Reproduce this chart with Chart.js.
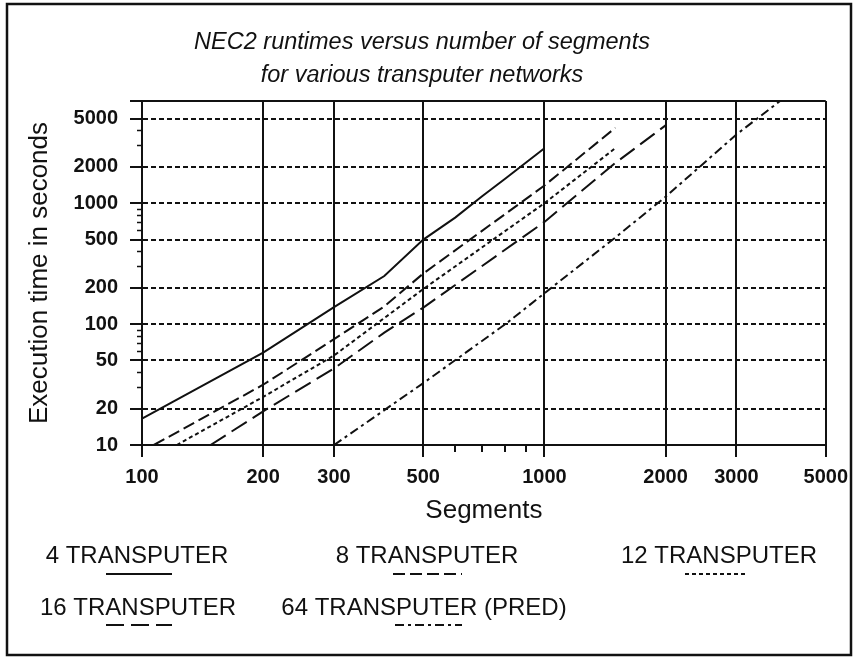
<!DOCTYPE html>
<html>
<head>
<meta charset="utf-8">
<script src="https://cdn.jsdelivr.net/npm/chart.js@4"></script>
<style>
html,body{margin:0;padding:0;background:#fff;}
#wrap{width:856px;height:659px;position:relative;background:#fff;}
canvas{display:block;}
</style>
</head>
<body>
<div id="wrap"><canvas id="c" width="856" height="659"></canvas></div>
<script>
// ---- chart text ----
const titleLines = ['NEC2 runtimes versus number of segments', 'for various transputer networks'];
const xAxisTitle = 'Segments';
const yAxisTitle = 'Execution time in seconds';

// ---- axes ----
const xMin = 100, xMax = 5000;
const yMin = 10, yMax = 7000;
const xTickValues = [100, 200, 300, 500, 1000, 2000, 3000, 5000];
const xMinorTicks = [600, 700, 800, 900];
const yTickValues = [10, 20, 50, 100, 200, 500, 1000, 2000, 5000];
const yMinorTicks = [30, 40, 60, 70, 80, 90, 300, 400, 600, 700, 800, 900, 3000, 4000];

// ---- series ----
const seriesLabels = ['4 TRANSPUTER', '8 TRANSPUTER', '12 TRANSPUTER', '16 TRANSPUTER', '64 TRANSPUTER (PRED)'];
const seg4  = [100, 200, 300, 400, 500, 600, 700, 800, 1000];
const time4 = [16.5, 58, 138, 250, 500, 760, 1140, 1600, 2850];
const seg8  = [107, 200, 300, 400, 500, 1000, 1500];
const time8 = [10, 31.5, 75, 140, 262, 1400, 4200];
const seg12  = [122, 200, 300, 500, 1000, 1500];
const time12 = [10, 25, 55, 195, 1000, 2850];
const seg16  = [148, 200, 300, 400, 500, 1000, 1500, 2000];
const time16 = [10, 19, 43, 85, 137, 700, 2150, 4400];
const seg64  = [300, 500, 800, 1000, 1500, 2000, 3000, 3850];
const time64 = [10, 32.5, 100, 180, 520, 1130, 3700, 7000];

const segs  = [seg4, seg8, seg12, seg16, seg64];
const times = [time4, time8, time12, time16, time64];

// ---- styles ----
const FONT = '"Liberation Sans", Arial, Helvetica, sans-serif';
const INK = '#111';
const dashStyles = [[], [12, 5], [4, 3], [18, 7], [9, 4, 3, 4]];
// legend layout: text centre x, text baseline y, sample line y, sample x range
const legendLayout = [
  {cx: 137, base: 563, ly: 574, x1: 106, x2: 172},
  {cx: 427, base: 563, ly: 574, x1: 393, x2: 462},
  {cx: 719, base: 563, ly: 574, x1: 685, x2: 748},
  {cx: 138, base: 615, ly: 625, x1: 106, x2: 172},
  {cx: 424, base: 615, ly: 625, x1: 395, x2: 462}
];

const extras = {
  id: 'extras',
  beforeDraw(chart) {
    const ctx = chart.ctx;
    ctx.save();
    ctx.fillStyle = '#fff';
    ctx.fillRect(0, 0, chart.width, chart.height);
    ctx.restore();
  },
  afterDraw(chart) {
    const ctx = chart.ctx;
    const ca = chart.chartArea;
    const xs = chart.scales.x, ys = chart.scales.y;
    ctx.save();
    ctx.strokeStyle = INK;
    ctx.setLineDash([]);
    // minor ticks
    ctx.lineWidth = 2;
    xMinorTicks.forEach(v => {
      const px = Math.round(xs.getPixelForValue(v));
      ctx.beginPath(); ctx.moveTo(px, ca.bottom); ctx.lineTo(px, ca.bottom + 7); ctx.stroke();
    });
    ctx.lineWidth = 1.5;
    yMinorTicks.forEach(v => {
      const py = Math.round(ys.getPixelForValue(v)) + 0.5;
      ctx.beginPath(); ctx.moveTo(ca.left - 5, py); ctx.lineTo(ca.left, py); ctx.stroke();
    });
    // outer frame
    ctx.lineWidth = 2.5;
    ctx.strokeRect(7, 4, 844, 651);
    // legend
    chart.data.datasets.forEach((ds, i) => {
      const L = legendLayout[i];
      ctx.fillStyle = INK;
      ctx.font = '24px ' + FONT;
      ctx.textAlign = 'center';
      ctx.textBaseline = 'alphabetic';
      ctx.fillText(ds.label, L.cx, L.base);
      ctx.lineWidth = 2;
      ctx.setLineDash(ds.borderDash || []);
      ctx.beginPath(); ctx.moveTo(L.x1, L.ly); ctx.lineTo(L.x2, L.ly); ctx.stroke();
      ctx.setLineDash([]);
    });
    ctx.restore();
  }
};

const datasets = seriesLabels.map((lab, i) => ({
  label: lab,
  data: segs[i].map((x, j) => ({x: x, y: times[i][j]})),
  borderColor: INK,
  borderWidth: 2,
  borderDash: dashStyles[i],
  pointRadius: 0,
  fill: false,
  tension: 0
}));

new Chart(document.getElementById('c'), {
  type: 'line',
  data: {datasets: datasets},
  options: {
    responsive: false,
    animation: false,
    devicePixelRatio: 1,
    layout: {padding: {left: 16, right: 28, top: 0, bottom: 133}},
    plugins: {
      legend: {display: false},
      tooltip: {enabled: false},
      title: {
        display: true,
        text: titleLines,
        color: INK,
        font: {family: FONT, size: 23.5, style: 'italic', weight: 'normal', lineHeight: 33 / 23.5},
        padding: {top: 25.5, bottom: 9.5}
      }
    },
    scales: {
      x: {
        type: 'logarithmic',
        min: xMin, max: xMax,
        afterBuildTicks: s => { s.ticks = xTickValues.map(v => ({value: v})); },
        afterFit: s => { s.height = 81; },
        ticks: {
          autoSkip: false, maxRotation: 0, minRotation: 0, padding: 8, color: INK,
          font: {family: FONT, size: 20, weight: 'bold'},
          callback: v => String(v)
        },
        grid: {color: INK, lineWidth: 2, tickLength: 12, tickWidth: 2, tickColor: INK},
        border: {display: true, color: INK, width: 2},
        title: {display: true, text: xAxisTitle, color: INK, font: {family: FONT, size: 26}, padding: {top: 0, bottom: 0}}
      },
      y: {
        type: 'logarithmic',
        min: yMin, max: yMax,
        afterBuildTicks: s => { s.ticks = yTickValues.concat([yMax]).map(v => ({value: v})); },
        afterFit: s => { s.width = 126; },
        ticks: {
          autoSkip: false, padding: 12, color: INK,
          font: {family: FONT, size: 20, weight: 'bold'},
          callback: v => (yTickValues.indexOf(v) >= 0 ? String(v) : '')
        },
        grid: {color: INK, lineWidth: 2, tickLength: 12, tickWidth: 2, tickColor: INK, tickBorderDash: []},
        border: {
          display: true, color: INK, width: 2,
          dash: c => (c.tick && (c.tick.value === yMin || c.tick.value === yMax)) ? [] : [5, 3]
        },
        title: {display: true, text: yAxisTitle, color: INK, font: {family: FONT, size: 26}, padding: {top: 8.4, bottom: 0}}
      }
    }
  },
  plugins: [extras]
});
</script>
</body>
</html>
